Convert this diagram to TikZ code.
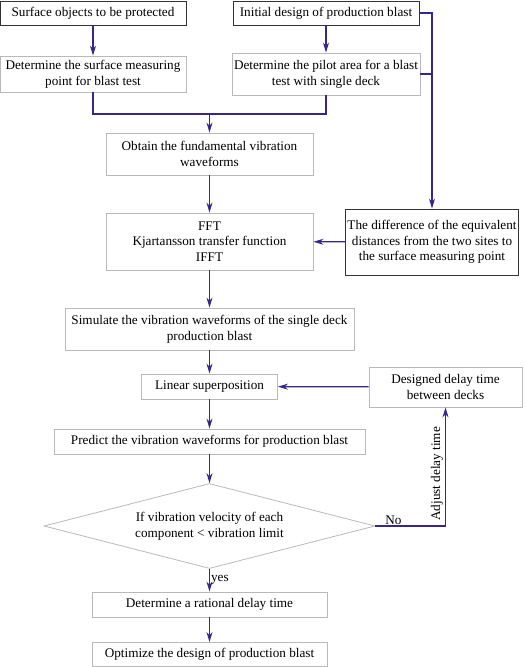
\documentclass[tikz,border=0pt]{standalone}
\usepackage{fontspec}
\setmainfont{Liberation Serif}
\usetikzlibrary{shapes.geometric,arrows.meta}
\definecolor{flowblue}{RGB}{55,38,140}

\begin{document}
\begin{tikzpicture}
  [x=1pt, y=1pt, font=\fontsize{13.2}{15.7}\selectfont,
   box/.style={draw=gray!55, line width=0.9pt, align=center, inner sep=2pt},
   darkbox/.style={box, draw=black!80},
   decision/.style={diamond, draw=gray!55, line width=0.8pt, align=center, inner sep=0pt},
   flow/.style={draw=flowblue, line width=1.2pt},
   arr/.style={flow, -{Stealth[length=10pt, width=6pt]}}]
  \useasboundingbox (0,0) rectangle (526,-667);
  % top row
  \node [darkbox, minimum width=186, minimum height=24] (objects) at (93,-13) {Surface objects to be protected};
  \node [darkbox, minimum width=186, minimum height=24] (initial) at (326,-13) {Initial design of production blast};
  \node [box, minimum width=186, minimum height=36] (measure) at (93,-74) {Determine the surface measuring\\point for blast test};
  \node [box, minimum width=186, minimum height=42] (pilot) at (326,-74) {Determine the pilot area for a blast\\test with single deck};
  % main column
  \node [box, minimum width=207, minimum height=42] (waveform) at (209.5,-154) {Obtain the fundamental vibration\\waveforms};
  \node [box, minimum width=207, minimum height=57] (fft) at (209.5,-241.5) {FFT\\Kjartansson transfer function\\IFFT};
  \node [darkbox, minimum width=172, minimum height=66] (distance) at (432,-242) {The difference of the equivalent\\distances from the two sites to\\the surface measuring point};
  \node [box, minimum width=289, minimum height=42] (simulate) at (209.5,-329) {Simulate the vibration waveforms of the single deck\\production blast};
  \node [box, minimum width=136, minimum height=25] (linear) at (209.5,-386.5) {Linear superposition};
  \node [box, minimum width=153, minimum height=40] (delay) at (445.5,-387) {Designed delay time\\between decks};
  \node [box, minimum width=311, minimum height=25] (predict) at (209.5,-441.5) {Predict the vibration waveforms for production blast};
  \node [decision, minimum width=331, minimum height=85, aspect=3.9] (check) at (209.5,-526) {If vibration velocity of each\\component < vibration limit};
  \node [box, minimum width=235, minimum height=25] (rational) at (209.5,-604.5) {Determine a rational delay time};
  \node [box, minimum width=235, minimum height=24] (optimize) at (209.5,-654.5) {Optimize the design of production blast};
  % connectors
  \coordinate (merge) at (209.5,-114);
  \draw [arr] (objects) -- (measure);
  \draw [arr] (initial) -- (pilot);
  \draw [flow] (measure.south) |- (merge);
  \draw [flow] (pilot.south) |- (merge);
  \draw [arr] (merge) -- (waveform);
  \draw [arr] (initial.east) -| (distance.north);
  \draw [flow] (pilot.east) -- (pilot.east -| distance.north);
  \draw [arr] (waveform) -- (fft);
  \draw [arr] (distance) -- (fft);
  \draw [arr] (fft) -- (simulate);
  \draw [arr] (simulate) -- (linear);
  \draw [arr] (delay) -- (linear);
  \draw [arr] (linear) -- (predict);
  \draw [arr] (predict) -- (check);
  \draw [arr] (check.east) -| node [pos=0.06, above right, inner sep=1pt] {No}
     node [pos=0.72, rotate=90, anchor=south, inner sep=2pt] {Adjust delay time} (delay.south);
  \draw [arr] (check.south) -- node [right, inner sep=1pt] {yes} (rational);
  \draw [arr] (rational) -- (optimize);
\end{tikzpicture}
\end{document}
